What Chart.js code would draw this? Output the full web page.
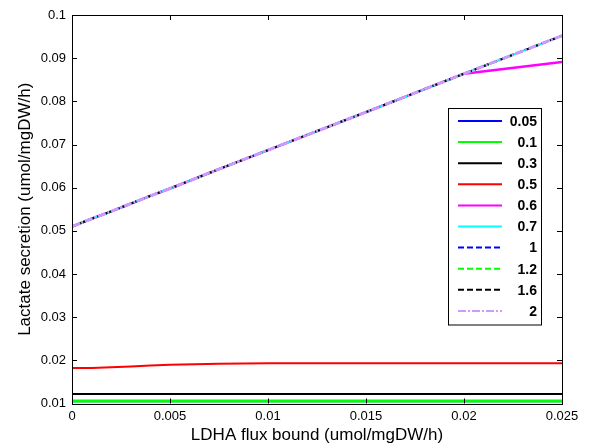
<!DOCTYPE html>
<html>
<head>
<meta charset="utf-8">
<script src="https://cdn.jsdelivr.net/npm/chart.js@4/dist/chart.umd.min.js"></script>
<style>
  html, body { margin: 0; padding: 0; background: #fff; }
  canvas { display: block; }
</style>
</head>
<body>
<canvas id="lactateChart" width="589" height="446"></canvas>
<script>
// LDHA flux bound (x) sampled points
const fluxBound = [0, 0.001, 0.002, 0.003, 0.004, 0.005, 0.0075, 0.01, 0.015, 0.02, 0.025];

// legend labels, one per oxygen bound
const bounds = ["0.05", "0.1", "0.3", "0.5", "0.6", "0.7", "1", "1.2", "1.6", "2"];

// lactate secretion for each bound
const sec005 = [0.0105, 0.0105, 0.0105, 0.0105, 0.0105, 0.0105, 0.0105, 0.0105, 0.0105, 0.0105, 0.0105];
const sec01 = [0.0106, 0.0106, 0.0106, 0.0106, 0.0106, 0.0106, 0.0106, 0.0106, 0.0106, 0.0106, 0.0106];
const sec03 = [0.0122, 0.0122, 0.0122, 0.0122, 0.0122, 0.0122, 0.0122, 0.0122, 0.0122, 0.0122, 0.0122];
const sec05 = [0.0182, 0.0182, 0.0184, 0.0186, 0.0188, 0.0190, 0.0192, 0.0193, 0.0193, 0.0193, 0.0193];
const sec06 = [0.0510, 0.0528, 0.0545, 0.0563, 0.0581, 0.0598, 0.0643, 0.0687, 0.0775, 0.0864, 0.0891];
const secHigh = [0.0510, 0.0528, 0.0545, 0.0563, 0.0581, 0.0598, 0.0643, 0.0687, 0.0775, 0.0864, 0.0952];

const seriesValues = [sec005, sec01, sec03, sec05, sec06, secHigh, secHigh, secHigh, secHigh, secHigh];

const xTicks = [0, 0.005, 0.01, 0.015, 0.02, 0.025];
const yTicks = [0.01, 0.02, 0.03, 0.04, 0.05, 0.06, 0.07, 0.08, 0.09, 0.1];

const styles = [
  { color: "#0000ff", dash: [], width: 2 },
  { color: "#00ff00", dash: [], width: 3 },
  { color: "#000000", dash: [], width: 2 },
  { color: "#ff0000", dash: [], width: 2 },
  { color: "#ff00ff", dash: [], width: 2.5 },
  { color: "#00ffff", dash: [], width: 2 },
  { color: "#0000ff", dash: [6, 3], width: 2 },
  { color: "#00ff00", dash: [6, 3], width: 2 },
  { color: "#000000", dash: [6, 3], width: 2 },
  { color: "#cc99ff", dash: [8, 2, 2, 2], width: 3 },
];

const FONT = "'Liberation Sans', Arial, Helvetica, sans-serif";

const datasets = bounds.map((label, i) => ({
  label,
  data: fluxBound.map((x, j) => ({ x, y: seriesValues[i][j] })),
  borderColor: styles[i].color,
  borderDash: styles[i].dash,
  borderWidth: styles[i].width,
  pointRadius: 0,
  tension: 0,
  fill: false,
  // later series drawn on top
  order: bounds.length - 1 - i,
}));

const fmt = (v) => String(parseFloat(Number(v).toFixed(4)));

// box, inward ticks and the in-plot legend
const frame = {
  id: "frame",
  afterDraw(chart) {
    const { ctx, chartArea: a, scales } = chart;
    ctx.save();
    ctx.strokeStyle = "#000";
    ctx.lineWidth = 1;
    ctx.setLineDash([]);
    ctx.beginPath();
    xTicks.forEach((t) => {
      const px = Math.round(scales.x.getPixelForValue(t)) + 0.5;
      ctx.moveTo(px, a.bottom);
      ctx.lineTo(px, a.bottom - 5);
      ctx.moveTo(px, a.top);
      ctx.lineTo(px, a.top + 5);
    });
    yTicks.forEach((t) => {
      const py = Math.round(scales.y.getPixelForValue(t)) + 0.5;
      ctx.moveTo(a.left, py);
      ctx.lineTo(a.left + 5, py);
      ctx.moveTo(a.right, py);
      ctx.lineTo(a.right - 5, py);
    });
    ctx.stroke();
    ctx.strokeRect(Math.round(a.left) + 0.5, Math.round(a.top) + 0.5,
      Math.round(a.right - a.left), Math.round(a.bottom - a.top));

    // legend
    const lx = 448.5, ly = 108.5, lw = 93, lh = 216.5;
    ctx.fillStyle = "#fff";
    ctx.fillRect(lx, ly, lw, lh);
    ctx.strokeRect(lx, ly, lw, lh);
    ctx.font = "bold 14px " + FONT;
    ctx.textAlign = "right";
    ctx.textBaseline = "middle";
    chart.data.datasets.forEach((ds, i) => {
      const y = 121 + i * 21.1;
      ctx.strokeStyle = ds.borderColor;
      ctx.setLineDash(ds.borderDash);
      ctx.lineWidth = 2;
      ctx.beginPath();
      ctx.moveTo(458, y);
      ctx.lineTo(502, y);
      ctx.stroke();
      ctx.fillStyle = "#000";
      ctx.fillText(ds.label, 537, y + 1);
    });
    ctx.restore();
  },
};

new Chart(document.getElementById("lactateChart"), {
  type: "line",
  data: { datasets },
  options: {
    responsive: false,
    animation: false,
    layout: { padding: { top: 15, right: 27, left: 0, bottom: 0 } },
    plugins: {
      legend: { display: false },
      tooltip: { enabled: false },
    },
    scales: {
      x: {
        type: "linear",
        min: 0,
        max: 0.025,
        afterBuildTicks: (s) => { s.ticks = xTicks.map((v) => ({ value: v })); },
        afterFit: (s) => { s.height = 42.5; },
        grid: { display: false, drawTicks: false },
        border: { display: false },
        ticks: {
          padding: 5,
          color: "#000",
          font: { family: FONT, size: 13 },
          callback: (v) => fmt(v),
          maxRotation: 0,
        },
        title: {
          display: true,
          text: "LDHA flux bound (umol/mgDW/h)",
          color: "#000",
          font: { family: FONT, size: 17 },
          padding: { top: 0, bottom: 0 },
        },
      },
      y: {
        type: "linear",
        min: 0.01,
        max: 0.1,
        afterBuildTicks: (s) => { s.ticks = yTicks.map((v) => ({ value: v })); },
        afterFit: (s) => { s.width = 72; },
        grid: { display: false, drawTicks: false },
        border: { display: false },
        ticks: {
          padding: 6,
          color: "#000",
          font: { family: FONT, size: 13 },
          callback: (v) => fmt(v),
        },
        title: {
          display: true,
          text: "Lactate secretion (umol/mgDW/h)",
          color: "#000",
          font: { family: FONT, size: 17 },
          padding: { top: 15, bottom: 0 },
        },
      },
    },
  },
  plugins: [frame],
});
</script>
</body>
</html>
